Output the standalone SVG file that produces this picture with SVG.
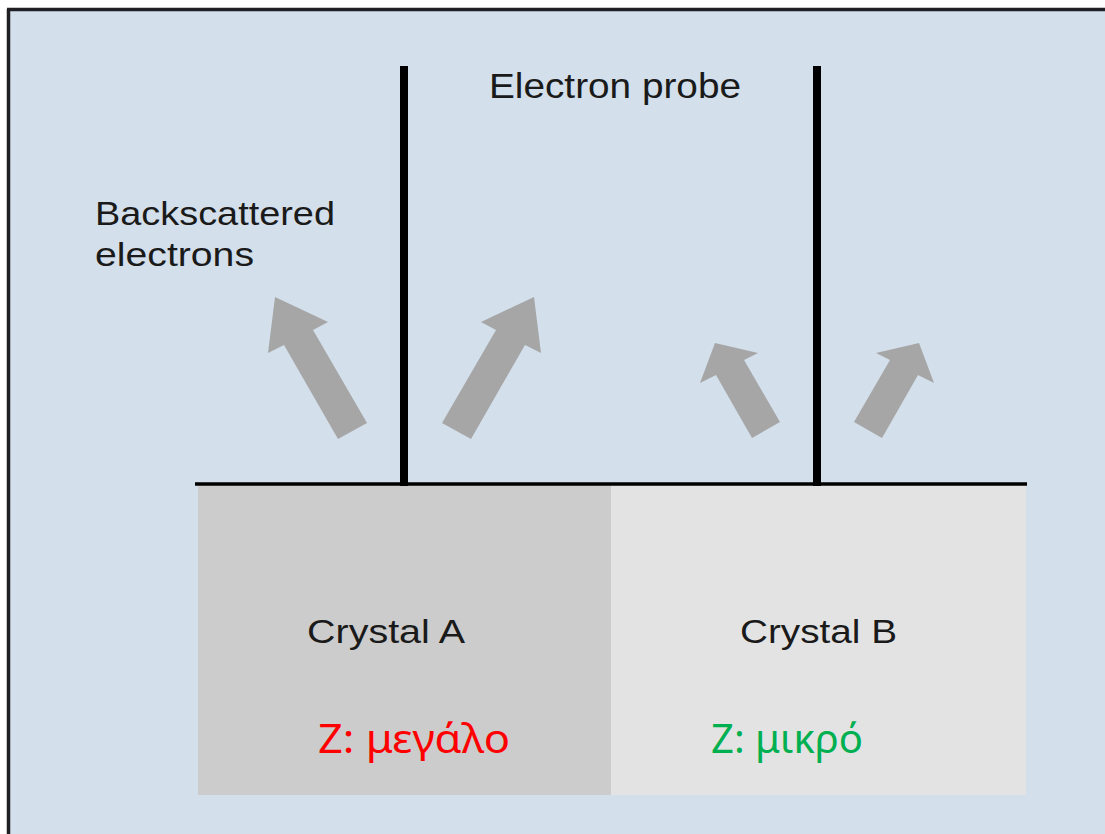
<svg xmlns="http://www.w3.org/2000/svg" width="1105" height="834" viewBox="0 0 1105 834">
  <style>
    .lbl { font-family: "Liberation Sans", Arial, sans-serif; fill: #1a1a1a; }
    .gr { font-family: "Noto Sans", "Open Sans", sans-serif; }
    .arrow { fill: #a6a6a6; }
    .probe { stroke: #000; stroke-width: 8; }
  </style>
  <rect x="0" y="0" width="1105" height="834" fill="#ffffff"/>
  <rect x="8" y="9" width="1097" height="825" fill="#d3dfeb"/>
  <line x1="7" y1="9.5" x2="1105" y2="9.5" stroke="#202024" stroke-width="3.5"/>
  <line x1="8.5" y1="9" x2="8.5" y2="834" stroke="#202024" stroke-width="3.5"/>

  <g id="crystalA">
    <rect x="198" y="485" width="413" height="310" fill="#cccccc"/>
    <text class="lbl" x="307" y="643" font-size="34" textLength="158" lengthAdjust="spacingAndGlyphs">Crystal A</text>
    <text class="gr" x="318" y="753" font-size="40" fill="#ff0000" textLength="192" lengthAdjust="spacingAndGlyphs">Z: μεγάλο</text>
  </g>
  <g id="crystalB">
    <rect x="611" y="485" width="415" height="310" fill="#e3e3e3"/>
    <text class="lbl" x="740" y="643" font-size="34" textLength="157" lengthAdjust="spacingAndGlyphs">Crystal B</text>
    <text class="gr" x="711" y="753" font-size="40" fill="#00b050" textLength="152" lengthAdjust="spacingAndGlyphs">Z: μικρό</text>
  </g>

  <g id="surface">
    <line x1="195" y1="484" x2="1027" y2="484" stroke="#000" stroke-width="3.5"/>
  </g>

  <g id="probe">
    <line class="probe" x1="404" y1="66" x2="404" y2="486"/>
    <line class="probe" x1="817" y1="66" x2="817" y2="486"/>
    <text class="lbl" x="489" y="98" font-size="35" textLength="252" lengthAdjust="spacingAndGlyphs">Electron probe</text>
  </g>

  <g id="backscattered-label">
    <text class="lbl" x="95" y="225" font-size="33" textLength="240" lengthAdjust="spacingAndGlyphs">Backscattered</text>
    <text class="lbl" x="95" y="266" font-size="33" textLength="159" lengthAdjust="spacingAndGlyphs">electrons</text>
  </g>

  <g id="connectors">
    <polygon class="arrow" points="338,439 284,345 268,353 275,297 328,322 313,330 367,423"/>
    <polygon class="arrow" points="471,439 525,345 541,353 534,297 481,322 496,330 442,423"/>
    <polygon class="arrow" points="752,438 716,375 700,383 715,343 758,353 744,360 780,422"/>
    <polygon class="arrow" points="882,438 918,375 934,383 919,343 876,353 890,360 854,422"/>
  </g>
</svg>
